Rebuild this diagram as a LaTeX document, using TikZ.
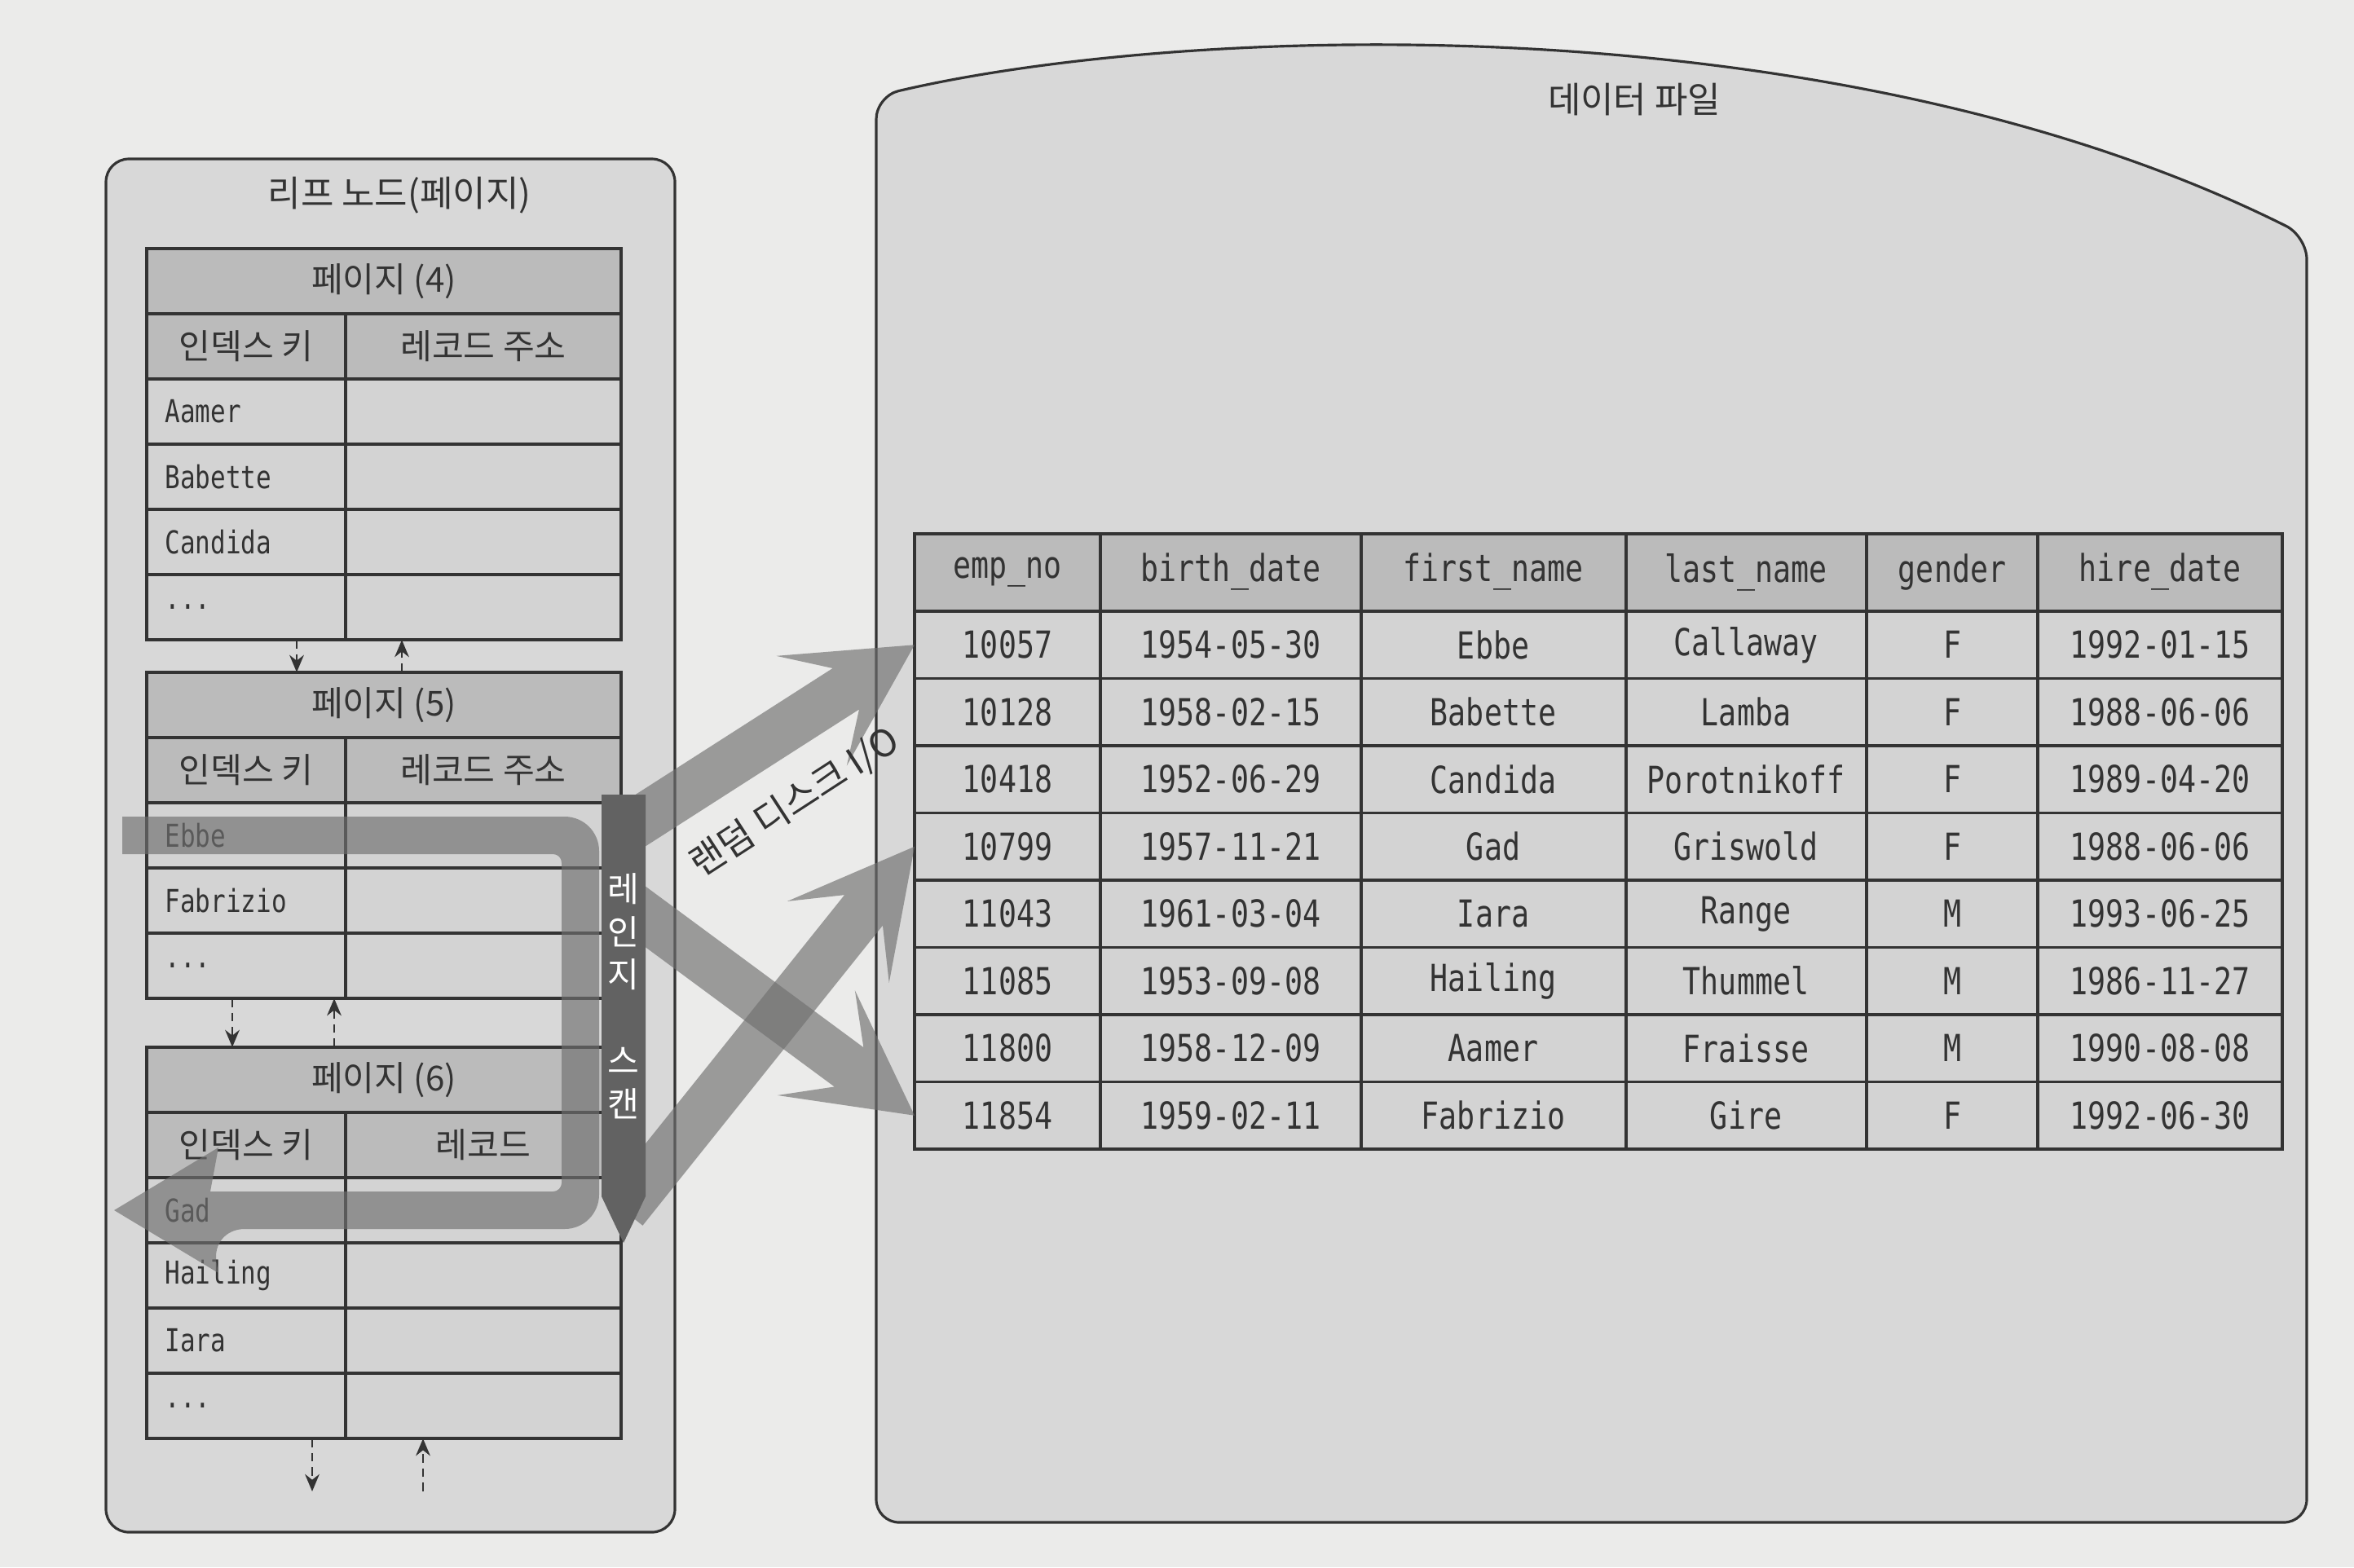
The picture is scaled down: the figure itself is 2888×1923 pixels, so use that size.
\documentclass[tikz,border=0pt]{standalone}
\usepackage{fontspec}
\setmainfont{Noto Sans CJK KR}
\setmonofont[FakeStretch=0.8]{DejaVu Sans Mono}
\usetikzlibrary{arrows.meta,calc}

\definecolor{pagebg}{HTML}{EBEBEA}
\definecolor{panelbg}{HTML}{D8D8D8}
\definecolor{cellbg}{HTML}{D3D3D3}
\definecolor{headbg}{HTML}{BBBBBB}
\definecolor{ink}{HTML}{333333}
\definecolor{flowgray}{HTML}{6F6F6F}
\definecolor{scangray}{HTML}{626262}

\tikzset{
	panel/.style={draw=ink, line width=0.9pt, fill=panelbg, rounded corners=8pt},
	grid/.style={draw=ink, line width=1.1pt},
	pageframe/.style={draw=ink, line width=1.1pt, minimum width=5.82cm, inner sep=0pt, outer sep=0pt},
	keytext/.style={text=ink, font=\ttfamily\fontsize{11}{13}\selectfont, anchor=west, inner sep=0pt},
	datatext/.style={text=ink, font=\ttfamily\fontsize{13}{15}\selectfont, inner sep=0pt},
	krtext/.style={text=ink, font=\fontsize{12}{14}\selectfont, inner sep=0pt},
	pagelink/.style={draw=ink, line width=0.8pt, dash pattern=on 3pt off 2pt, -{Stealth[length=6pt,width=5pt]}},
	flow/.style={fill=flowgray, fill opacity=0.65},
}

\newcommand\fatarrow[2]{%
	\coordinate (fa-n) at ($(#2)!1cm!(#1)$);
	\coordinate (fa-b) at ($(#2)!1.5cm!(#1)$);
	\fill[flow] ($(#1)!0.3cm!90:(#2)$) -- ($(fa-n)!0.3cm!90:(#2)$) -- ($(fa-b)!0.8cm!90:(#2)$) -- (#2)
		-- ($(fa-b)!0.8cm!-90:(#2)$) -- ($(fa-n)!0.3cm!-90:(#2)$) -- ($(#1)!0.3cm!-90:(#2)$) -- cycle;
}

\begin{document}
\begin{tikzpicture}[x=0.01cm, y=-0.01cm]
	\useasboundingbox (0,0) rectangle (2888,1923);
	\fill[pagebg] (0,0) rectangle (2888,1923);

	% data file
	\draw[panel] (1075,1868) -- (1075,118) .. controls (1450,30) and (2250,0) .. (2830,290) -- (2830,1868) -- cycle;
	\node[krtext, font=\fontsize{12.5}{14}\selectfont] (datafile) at (2005,122) {데이터 파일};

	\fill[headbg] (1122,655) rectangle (2800,750);
	\fill[cellbg] (1122,750) rectangle (2800,1410);
	\foreach \i in {0,...,7} \draw[grid] (1122,{750+82.5*\i}) -- (2800,{750+82.5*\i});
	\foreach \x in {1350,1670,1995,2290,2500} \draw[grid] (\x,655) -- (\x,1410);
	\draw[grid] (1122,655) rectangle (2800,1410);

	\foreach \t/\x [count=\c] in {emp\_no/1236,birth\_date/1510,first\_name/1832,last\_name/2142,gender/2395,hire\_date/2650}
		\node[datatext] (head\c) at (\x,702) {\t};

	\foreach \no/\bd/\fn/\ln/\g/\hd [count=\i] in {
		10057/1954-05-30/Ebbe/Callaway/F/1992-01-15,
		10128/1958-02-15/Babette/Lamba/F/1988-06-06,
		10418/1952-06-29/Candida/Porotnikoff/F/1989-04-20,
		10799/1957-11-21/Gad/Griswold/F/1988-06-06,
		11043/1961-03-04/Iara/Range/M/1993-06-25,
		11085/1953-09-08/Hailing/Thummel/M/1986-11-27,
		11800/1958-12-09/Aamer/Fraisse/M/1990-08-08,
		11854/1959-02-11/Fabrizio/Gire/F/1992-06-30}{
		\pgfmathsetmacro\ry{750+82.5*(\i-0.5)}
		\node[datatext] (no\i) at (1236,\ry) {\no};
		\node[datatext] (bd\i) at (1510,\ry) {\bd};
		\node[datatext] (fn\i) at (1832,\ry) {\fn};
		\node[datatext] (ln\i) at (2142,\ry) {\ln};
		\node[datatext] (g\i) at (2395,\ry) {\g};
		\node[datatext] (hd\i) at (2650,\ry) {\hd};
		\coordinate (r\i) at (1122,\ry);
	}

	% leaf pages
	\draw[panel] (130,195) rectangle (828,1880);
	\node[krtext, font=\fontsize{12.5}{14}\selectfont] (leaf) at (490,240) {리프 노드(페이지)};

	\fill[headbg] (180,305) rectangle (762,465);
	\fill[cellbg] (180,465) rectangle (762,785);
	\foreach \y in {385,465,545,625,705} \draw[grid] (180,\y) -- (762,\y);
	\draw[grid] (424,385) -- (424,785);
	\node[pageframe, minimum height=4.8cm] (page4) at (471,545) {};
	\node[krtext] (title4) at (471,345) {페이지 (4)};
	\node[krtext] (key4) at (302,425) {인덱스 키};
	\node[krtext] (addr4) at (593,425) {레코드 주소};
	\foreach \k [count=\i] in {Aamer,Babette,Candida}
		\node[keytext] (k4-\i) at (202,{425+80*\i}) {\k};
	\node[keytext] (k4-4) at (202,745) {...};

	\fill[headbg] (180,825) rectangle (762,985);
	\fill[cellbg] (180,985) rectangle (762,1225);
	\foreach \y in {905,985,1065,1145} \draw[grid] (180,\y) -- (762,\y);
	\draw[grid] (424,905) -- (424,1225);
	\node[pageframe, minimum height=4cm] (page5) at (471,1025) {};
	\node[krtext] (title5) at (471,865) {페이지 (5)};
	\node[krtext] (key5) at (302,945) {인덱스 키};
	\node[krtext] (addr5) at (593,945) {레코드 주소};
	\foreach \k [count=\i] in {Ebbe,Fabrizio}
		\node[keytext] (k5-\i) at (202,{945+80*\i}) {\k};
	\node[keytext] (k5-3) at (202,1185) {...};

	\fill[headbg] (180,1285) rectangle (762,1445);
	\fill[cellbg] (180,1445) rectangle (762,1765);
	\foreach \y in {1365,1445,1525,1605,1685} \draw[grid] (180,\y) -- (762,\y);
	\draw[grid] (424,1365) -- (424,1765);
	\node[pageframe, minimum height=4.8cm] (page6) at (471,1525) {};
	\node[krtext] (title6) at (471,1325) {페이지 (6)};
	\node[krtext] (key6) at (302,1405) {인덱스 키};
	\node[krtext] (addr6) at (593,1405) {레코드};
	\foreach \k [count=\i] in {Gad,Hailing,Iara}
		\node[keytext] (k6-\i) at (202,{1405+80*\i}) {\k};
	\node[keytext] (k6-4) at (202,1725) {...};

	\draw[pagelink] (page4.south -| 364,0) -- (page5.north -| 364,0);
	\draw[pagelink] (page5.north -| 493,0) -- (page4.south -| 493,0);
	\draw[pagelink] (page5.south -| 285,0) -- (page6.north -| 285,0);
	\draw[pagelink] (page6.north -| 410,0) -- (page5.south -| 410,0);
	\coordinate (next6) at (450,1830);
	\draw[pagelink] (page6.south -| 383,0) -- (next6 -| 383,0);
	\draw[pagelink] (next6 -| 519,0) -- (page6.south -| 519,0);

	% range scan
	\fill[flow] (150,1002) [rounded corners=12pt] -- (735,1002) -- (735,1508) -- (258,1508) [sharp corners] -- (268,1562) -- (140,1485) -- (268,1408) -- (258,1462) [rounded corners=3pt] -- (689,1462) -- (689,1048) [sharp corners] -- (150,1048) -- cycle;

	\coordinate (ebbe-out) at (765,1020);
	\coordinate (fab-out) at (765,1105);
	\coordinate (gad-out) at (765,1485);
	\fatarrow{ebbe-out}{r1}
	\fatarrow{fab-out}{r8}
	\fatarrow{gad-out}{r4}

	\fill[scangray] (738,975) -- (792,975) -- (792,1468) -- (765,1525) -- (738,1468) -- cycle;
	\node[krtext, text=white, align=center, font=\fontsize{12}{15}\selectfont] (scan) at (765,1222) {레\\인\\지\\[15pt]스\\캔};

	\node[krtext, font=\fontsize{13}{15}\selectfont, rotate=33] (randomio) at (975,985) {랜덤 디스크 I/O};
\end{tikzpicture}
\end{document}
